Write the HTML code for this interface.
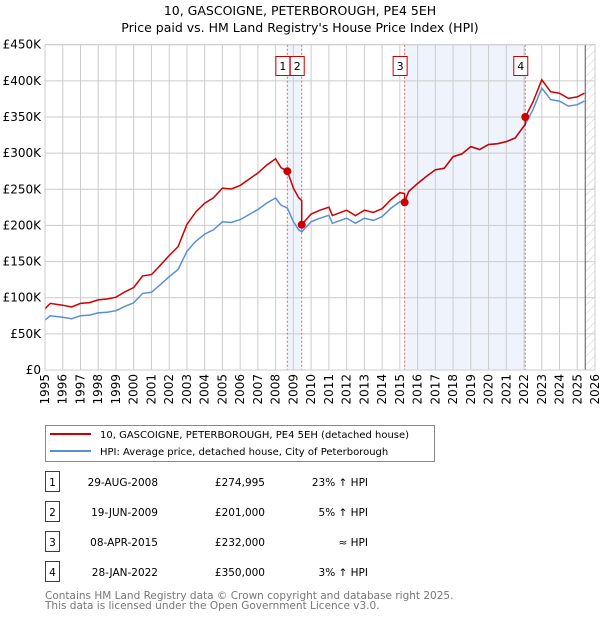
<!DOCTYPE html>
<html><head><meta charset="utf-8"><style>
body{margin:0;background:#fff;font-family:"Liberation Sans","DejaVu Sans",sans-serif;}
svg text{font-family:"DejaVu Sans","Liberation Sans",sans-serif;}
</style></head><body>
<svg id="chart" width="600" height="620" viewBox="0 0 600 620" xmlns="http://www.w3.org/2000/svg">
<text x="300" y="15" text-anchor="middle" font-size="12.5">10, GASCOIGNE, PETERBOROUGH, PE4 5EH</text>
<text x="300" y="32" text-anchor="middle" font-size="12.5">Price paid vs. HM Land Registry's House Price Index (HPI)</text>
<g id="plot"></g>
<g>
<rect x="45.5" y="425.5" width="389" height="36" fill="#fff" stroke="#888"/>
<line x1="50" y1="434" x2="91" y2="434" stroke="#cc0000" stroke-width="2"/>
<text x="100" y="438" font-size="10">10, GASCOIGNE, PETERBOROUGH, PE4 5EH (detached house)</text>
<line x1="50" y1="451" x2="91" y2="451" stroke="#5b8fd4" stroke-width="2"/>
<text x="100" y="455" font-size="10">HPI: Average price, detached house, City of Peterborough</text>
</g>
<g id="table"></g>
<text x="45" y="599" font-size="10.5" fill="#777">Contains HM Land Registry data © Crown copyright and database right 2025.</text>
<text x="45" y="609" font-size="10.5" fill="#777">This data is licensed under the Open Government Licence v3.0.</text>
</svg>
<script>
const hpiYears=[1995,1995.3,1996,1996.5,1997,1997.5,1998,1998.5,1999,1999.5,2000,2000.5,2001,2001.5,2002,2002.5,2003,2003.5,2004,2004.5,2005,2005.5,2006,2006.5,2007,2007.5,2008,2008.3,2008.66,2009,2009.3,2009.47,2010,2010.5,2011,2011.2,2012,2012.5,2013,2013.5,2014,2014.5,2015,2015.27,2015.5,2016,2016.5,2017,2017.5,2018,2018.5,2019,2019.5,2020,2020.5,2021,2021.5,2022.07,2022.5,2023,2023.5,2024,2024.5,2025,2025.4];
const hpiValues=[69,75,73,71,75,76,79,80,82,88,93,106,107.5,118,129,139,164,178,188,194,205,204,208,215,222,231,238,228,224,205,194,191,205,210,214,203,210,203,210,207,212,224,233,232,247,258,268,277,279,295,299,309,305,312,313,316,321,340,360,390,374,372,365,367,372];
const saleLabels=["1","2","3","4"];
const saleDates=["29-AUG-2008","19-JUN-2009","08-APR-2015","28-JAN-2022"];
const saleYears=[2008.66,2009.47,2015.27,2022.07];
const salePrices=[274.995,201,232,350];
const salePriceText=["£274,995","£201,000","£232,000","£350,000"];
const saleHpiText=["23% ↑ HPI","5% ↑ HPI","≈ HPI","3% ↑ HPI"];
const yTicks=[0,50,100,150,200,250,300,350,400,450];
const yTickLabels=["£0","£50K","£100K","£150K","£200K","£250K","£300K","£350K","£400K","£450K"];
const xTicks=[1995,1996,1997,1998,1999,2000,2001,2002,2003,2004,2005,2006,2007,2008,2009,2010,2011,2012,2013,2014,2015,2016,2017,2018,2019,2020,2021,2022,2023,2024,2025,2026];
const dataEnd=2025.45;

const X0=45,X1=595,Y0=370,Y1=44.7;
const xs=y=>X0+(y-1995)/(2026-1995)*(X1-X0);
const ys=v=>Y0-v/450*(Y0-Y1);
const NS="http://www.w3.org/2000/svg";
const plot=document.getElementById('plot');
function el(t,a,p){const e=document.createElementNS(NS,t);for(const k in a)e.setAttribute(k,a[k]);(p||plot).appendChild(e);return e;}
function hpiAt(y){for(let i=0;i<hpiYears.length-1;i++){if(y<=hpiYears[i+1]){const t=(y-hpiYears[i])/(hpiYears[i+1]-hpiYears[i]);return hpiValues[i]+t*(hpiValues[i+1]-hpiValues[i]);}}return hpiValues[hpiValues.length-1];}

let s=el('rect',{x:xs(saleYears[0]),y:Y1,width:xs(saleYears[1])-xs(saleYears[0]),height:Y0-Y1,fill:'#eef3fc'});

s=el('rect',{x:xs(saleYears[2]),y:Y1,width:xs(saleYears[3])-xs(saleYears[2]),height:Y0-Y1,fill:'#eef3fc'});

const defs=el('defs',{});
const pat=el('pattern',{id:'hatch',width:6,height:6,patternUnits:'userSpaceOnUse',patternTransform:'rotate(45)'},defs);
el('line',{x1:0,y1:0,x2:0,y2:6,stroke:'#ccc','stroke-width':1},pat);
s=el('rect',{x:xs(dataEnd),y:Y1,width:X1-xs(dataEnd),height:Y0-Y1,fill:'url(#hatch)'});

yTicks.forEach((v,i)=>{const l=el('line',{x1:X0,x2:X1,y1:ys(v),y2:ys(v),stroke:'#ccc'});

const t=el('text',{x:X0-4,y:ys(v)+4,'text-anchor':'end','font-size':12});t.textContent=yTickLabels[i];
});
xTicks.forEach(y=>{const l=el('line',{x1:xs(y),x2:xs(y),y1:Y1,y2:Y0,stroke:'#ccc'});

const t=el('text',{x:0,y:0,'text-anchor':'end','font-size':12,transform:`translate(${xs(y)+4},${Y0+4}) rotate(-90)`});t.textContent=y;
});
let b=el('line',{x1:xs(dataEnd),x2:xs(dataEnd),y1:Y1,y2:Y0,stroke:'#555'});

saleYears.forEach(y=>{const l=el('line',{x1:xs(y),x2:xs(y),y1:Y1,y2:Y0,stroke:'#f06060','stroke-dasharray':'2,2'});
});
let d=hpiYears.map((y,i)=>(i?'L':'M')+xs(y).toFixed(1)+','+ys(hpiValues[i]).toFixed(1)).join('');
let p=el('path',{d:d,fill:'none',stroke:'#5b8fd4','stroke-width':1.5});

function ratioSeg(y){let k=0;for(let i=0;i<saleYears.length;i++)if(y>=saleYears[i])k=i;return salePrices[k]/hpiAt(saleYears[k]);}
let pts=[];
hpiYears.forEach((y,i)=>{
 for(let j=0;j<saleYears.length;j++){const sy=saleYears[j];if(i>0&&hpiYears[i-1]<sy&&y>sy){const prev=j>0?salePrices[j-1]/hpiAt(saleYears[j-1]):salePrices[0]/hpiAt(saleYears[0]);pts.push([sy,hpiAt(sy)*prev]);pts.push([sy,salePrices[j]]);}}
 if(saleYears.indexOf(y)>=0){const j=saleYears.indexOf(y);const prev=j>0?salePrices[j-1]/hpiAt(saleYears[j-1]):salePrices[0]/hpiAt(saleYears[0]);pts.push([y,hpiAt(y)*prev]);pts.push([y,salePrices[j]]);}
 else pts.push([y,hpiValues[i]*ratioSeg(y)]);});
d=pts.map((q,i)=>(i?'L':'M')+xs(q[0]).toFixed(1)+','+ys(q[1]).toFixed(1)).join('');
p=el('path',{d:d,fill:'none',stroke:'#cc0000','stroke-width':1.5});

saleYears.forEach((y,i)=>{const c=el('circle',{cx:xs(y),cy:ys(salePrices[i]),r:4,fill:'#cc0000'});

const bx=xs(y)-11;
const r=el('rect',{x:bx-0.5,y:56.5,width:14,height:19,fill:'#fff',stroke:'#cc0000'});

const t=el('text',{x:bx+6.5,y:70,'text-anchor':'middle','font-size':11});t.textContent=saleLabels[i];
});
let ax=el('rect',{x:X0,y:Y1,width:X1-X0,height:Y0-Y1,fill:'none',stroke:'#ccc'});

const tb=document.getElementById('table');
saleLabels.forEach((lab,i)=>{const yy=482+i*30;
let r=el('rect',{x:45.5,y:yy-10.5,width:14,height:20,fill:'#fff',stroke:'#cc0000'},tb);

let t=el('text',{x:52.5,y:yy+4,'text-anchor':'middle','font-size':10.5},tb);t.textContent=lab;

t=el('text',{x:158,y:yy+4,'text-anchor':'end','font-size':10.5},tb);t.textContent=saleDates[i];

t=el('text',{x:265,y:yy+4,'text-anchor':'end','font-size':10.5},tb);t.textContent=salePriceText[i];

t=el('text',{x:368,y:yy+4,'text-anchor':'end','font-size':10.5},tb);t.textContent=saleHpiText[i];
});
</script>
</body></html>
